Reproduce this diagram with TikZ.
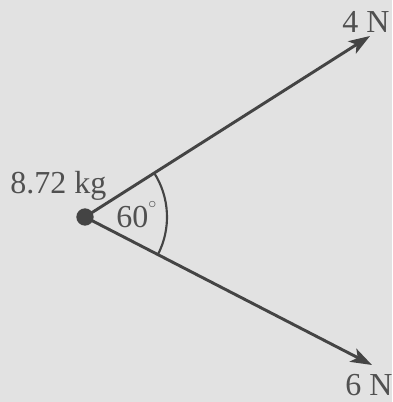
\documentclass[tikz,border=0pt]{standalone}
\usepackage{fontspec}
\setmainfont{Liberation Serif}
\usetikzlibrary{arrows.meta}
\definecolor{bg}{RGB}{226,226,226}
\definecolor{ink}{RGB}{68,68,68}
\definecolor{txt}{RGB}{80,80,80}
\begin{document}
\begin{tikzpicture}[x=0.75pt,y=-0.75pt,
  force/.style={draw=ink,line width=2.2pt,-{Stealth[length=16pt,width=11pt,inset=4pt]}},
  lbl/.style={inner sep=0pt,anchor=base west,text=txt,font=\fontsize{24}{27}\selectfont}]
\fill[bg] (0,0) rectangle (392,402);
\useasboundingbox (0,0) rectangle (392,402);
\node[circle,fill=ink,minimum size=13pt,inner sep=0pt] (m) at (85,217) {};
\coordinate (a) at (370,36);
\coordinate (b) at (372,365);
\draw[force] (m.center) -- (a);
\draw[force] (m.center) -- (b);
\draw[ink,line width=1.6pt] (m.center) ++(32.6:61.5pt) arc[start angle=32.6,end angle=-27.3,radius=61.5pt];
\node[lbl] (mass) at (10,194) {8.72 kg};
\node[lbl] (f1) at (342,33) {4 N};
\node[lbl] (f2) at (345,395) {6 N};
\node[lbl] (ang) at (116,228) {60\raisebox{1.35ex}{\fontsize{13}{13}\selectfont$\circ$}};
\end{tikzpicture}
\end{document}
